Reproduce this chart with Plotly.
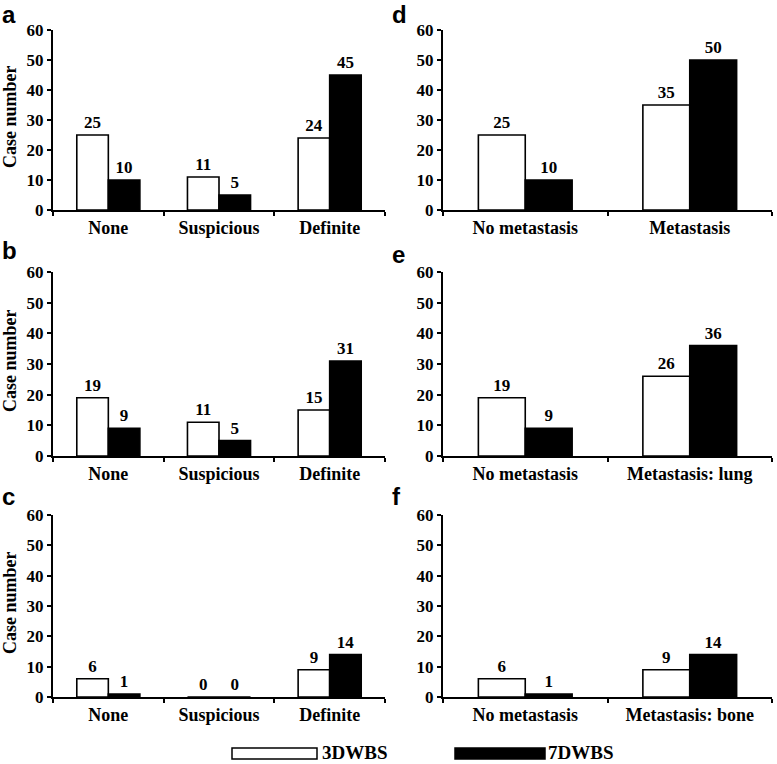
import plotly.graph_objects as go

W, H = 777, 764

# ---- data ----
cats_abc = ["None", "Suspicious", "Definite"]
a_3d = [25, 11, 24]
a_7d = [10, 5, 45]
b_3d = [19, 11, 15]
b_7d = [9, 5, 31]
c_3d = [6, 0, 9]
c_7d = [1, 0, 14]

cats_d = ["No metastasis", "Metastasis"]
cats_e = ["No metastasis", "Metastasis: lung"]
cats_f = ["No metastasis", "Metastasis: bone"]
d_3d = [25, 35]
d_7d = [10, 50]
e_3d = [19, 26]
e_7d = [9, 36]
f_3d = [6, 9]
f_7d = [1, 14]

series_names = ["3DWBS", "7DWBS"]
panel_letters = ["a", "b", "c", "d", "e", "f"]
y_ticks = [0, 10, 20, 30, 40, 50, 60]
y_title = "Case number"

SERIF = "Liberation Serif, Times New Roman, Times, serif"
SANS = "Liberation Sans, Arial, sans-serif"


def px_x(x):
    return x / W


def px_y(y):
    return 1 - y / H


# layout geometry (screen pixels)
col_x = [(53, 385), (443, 772)]
row_y = [(30, 210), (272, 456), (515, 697)]

panels = [
    (cats_abc, a_3d, a_7d, 0, 0),
    (cats_abc, b_3d, b_7d, 1, 0),
    (cats_abc, c_3d, c_7d, 2, 0),
    (cats_d, d_3d, d_7d, 0, 1),
    (cats_e, e_3d, e_7d, 1, 1),
    (cats_f, f_3d, f_7d, 2, 1),
]

fig = go.Figure()
layout = {}
annotations = []
for i, (cats, v3, v7, r, c) in enumerate(panels):
    n = i + 1
    xa = "x" if n == 1 else f"x{n}"
    ya = "y" if n == 1 else f"y{n}"
    for name, vals, fill in [(series_names[0], v3, "white"), (series_names[1], v7, "black")]:
        fig.add_trace(go.Bar(
            x=cats, y=vals, name=name, xaxis=xa, yaxis=ya,
            marker=dict(color=fill, line=dict(color="black", width=1.6)),
            text=[str(v) for v in vals], textposition="outside",
            textfont=dict(family=SERIF, size=17, color="black", weight="bold"),
            cliponaxis=False, showlegend=False,
        ))
    x0, x1 = col_x[c]
    y0, y1 = row_y[r]
    layout[f"xaxis{'' if n == 1 else n}"] = dict(
        domain=[px_x(x0), px_x(x1)], anchor=ya, type="category", automargin=False,
        tickson="boundaries", ticks="outside", ticklen=4, tickwidth=2, tickcolor="black",
        showline=True, linewidth=2, linecolor="black", showgrid=False,
        tickfont=dict(family=SERIF, size=18, color="black", weight="bold"),
        fixedrange=True,
    )
    layout[f"yaxis{'' if n == 1 else n}"] = dict(
        domain=[px_y(y1), px_y(y0)], anchor=xa, range=[0, 60], tickvals=y_ticks,
        automargin=False,
        ticks="outside", ticklen=4, tickwidth=2, tickcolor="black",
        showline=True, linewidth=2, linecolor="black", showgrid=False, zeroline=False,
        tickfont=dict(family=SERIF, size=17, color="black", weight="bold"),
    )
    if c == 0:
        annotations.append(dict(text=y_title, xref="paper", yref="paper",
                                x=px_x(10), y=px_y((y0 + y1) / 2 - 3),
                                xanchor="center", yanchor="middle", textangle=-90, showarrow=False,
                                font=dict(family=SERIF, size=18, color="black", weight="bold")))

letter_pos = {"a": (0, 15), "b": (0, 250), "c": (0, 497), "d": (390, 15), "e": (390, 255), "f": (390, 497)}
for lt in panel_letters:
    lx, ly = letter_pos[lt]
    annotations.append(dict(text=lt, xref="paper", yref="paper", x=px_x(lx), y=px_y(ly),
                            xanchor="left", yanchor="middle", showarrow=False,
                            font=dict(family=SANS, size=24, color="black", weight="bold")))

# legend drawn as shapes + labels
shapes = [
    dict(type="rect", xref="paper", yref="paper", x0=px_x(232), x1=px_x(317), y0=px_y(759), y1=px_y(748),
         fillcolor="white", line=dict(color="black", width=1.5)),
    dict(type="rect", xref="paper", yref="paper", x0=px_x(455), x1=px_x(545), y0=px_y(759), y1=px_y(748),
         fillcolor="black", line=dict(color="black", width=1.5)),
]
for label, lx in [(series_names[0], 321), (series_names[1], 547)]:
    annotations.append(dict(text=label, xref="paper", yref="paper", x=px_x(lx), y=0,
                            xanchor="left", yanchor="bottom", showarrow=False, borderpad=0,
                            font=dict(family=SERIF, size=19, color="black", weight="bold")))

fig.update_layout(
    template="none",
    width=W, height=H, margin=dict(l=0, r=0, t=0, b=0, autoexpand=False),
    plot_bgcolor="white", paper_bgcolor="white",
    barmode="group", bargap=0.43, bargroupgap=0,
    annotations=annotations, shapes=shapes, showlegend=False,
)
fig.update_layout(**layout)

# remove the browser's default 8px body margin so the figure fills the window exactly
fig.write_html("out.html", config={"displayModeBar": False},
               post_script="document.body.style.margin='0';")
